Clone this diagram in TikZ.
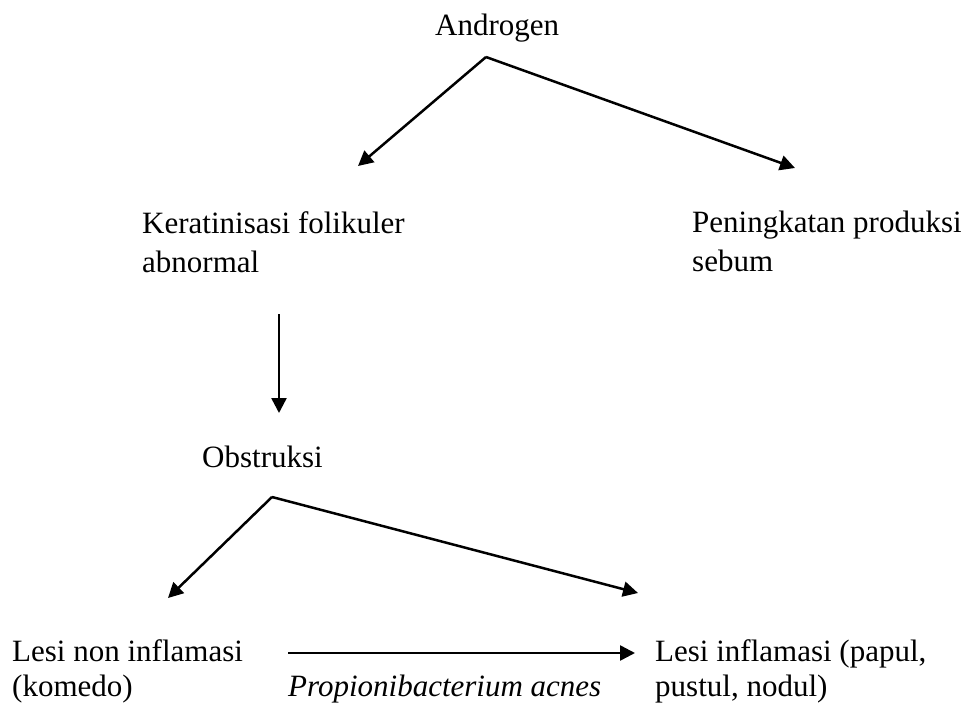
\documentclass[tikz,border=0pt]{standalone}
\usepackage{fontspec}
\setmainfont{Liberation Serif}
\usetikzlibrary{arrows.meta}
\tikzset{
  lbl/.style={anchor=base west, inner sep=0pt, align=left, font=\fontsize{31}{39}\selectfont},
  lblb/.style={lbl, font=\fontsize{31}{35}\selectfont},
  arr/.style={line width=2.5pt, -{Triangle[length=15pt,width=15pt]}}
}
\begin{document}
\begin{tikzpicture}[x=1pt,y=-1pt]
\useasboundingbox (0,0) rectangle (979,704);
\node[lbl] (andro) at (435,35) {Androgen};
\node[lbl] (kera) at (142,272) {Keratinisasi folikuler\\abnormal};
\node[lbl] (pen) at (692,271) {Peningkatan produksi\\sebum};
\node[lbl] (obs) at (202,467) {Obstruksi};
\node[lblb] (lnon) at (12,696) {Lesi non inflamasi\\(komedo)};
\node[lblb] (linf) at (655,696) {Lesi inflamasi (papul,\\pustul, nodul)};
\node[lbl, font=\fontsize{31}{35}\selectfont\itshape] (pa) at (288,696) {Propionibacterium acnes};
\coordinate (ap1) at (486,57);
\coordinate (t1l) at (358,166);
\coordinate (t1r) at (795,168);
\coordinate (v1) at (279,314);
\coordinate (v2) at (279,413);
\coordinate (ap2) at (272,497);
\coordinate (t2l) at (168,598);
\coordinate (t2r) at (638,593);
\coordinate (h1) at (288,653);
\coordinate (h2) at (635,653);
\draw[arr] (ap1) -- (t1l);
\draw[arr] (ap1) -- (t1r);
\draw[arr] (v1) -- (v2);
\draw[arr] (ap2) -- (t2l);
\draw[arr] (ap2) -- (t2r);
\draw[arr] (h1) -- (h2);
\end{tikzpicture}
\end{document}
